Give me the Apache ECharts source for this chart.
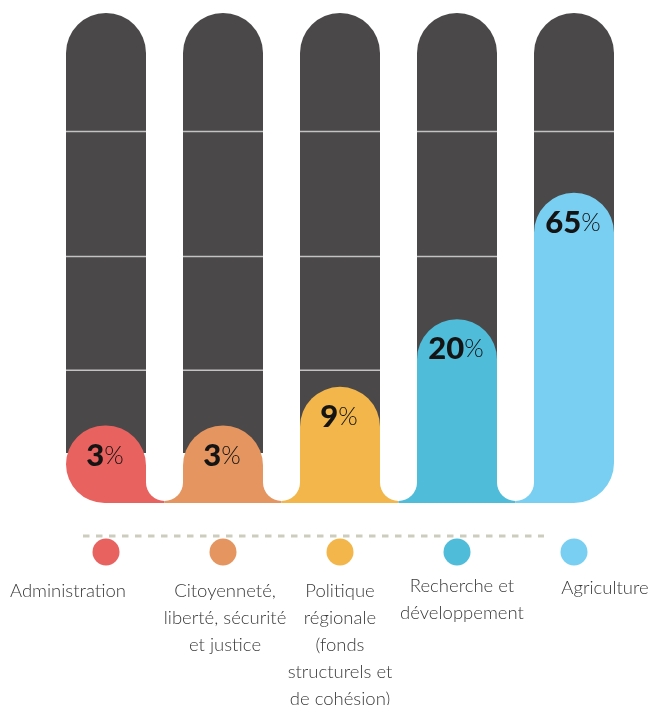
<!DOCTYPE html>
<html>
<head>
<meta charset="utf-8">
<script src="https://cdn.jsdelivr.net/npm/echarts@6/dist/echarts.min.js"></script>
<style>
html,body{margin:0;padding:0;background:#fff;}
#chart{width:653px;height:705px;}
</style>
</head>
<body>
<div id="chart"></div>
<script>
// ---- data ----
const categories = [
  'Administration',
  'Citoyenneté,\nliberté, sécurité\net justice',
  'Politique\nrégionale\n(fonds\nstructurels et\nde cohésion)',
  'Recherche et\ndéveloppement',
  'Agriculture'
];
const shares = [3, 3, 9, 20, 65];              // percentage labels
const barLevels = [15.8, 15.8, 23.7, 37.5, 63.3]; // visual bar heights (column = 100)
const gridLevels = [27.1, 50.3, 75.8];          // white guide lines inside the columns
const columnMax = 100;

// ---- style ----
const colors = ['#e8625f', '#e5955f', '#f2b64a', '#4fbcd9', '#78cff2'];
const darkCol = '#4a4848';
const colW = 80;
const labelShift = [-38, 2, 0, 5, 31];
const labelTop = [4.5, 4.5, 4.5, 0, 1.5];

const chart = echarts.init(document.getElementById('chart'), null, {renderer: 'canvas'});

const xData = categories.map((c, i) => {
  const s = labelShift[i];
  return {
    value: c,
    textStyle: {padding: [labelTop[i], s < 0 ? -2 * s : 0, 0, s > 0 ? 2 * s : 0]}
  };
});

const option = {
  animation: false,
  backgroundColor: '#fff',
  grid: {left: 47.5, right: 20.5, top: 13, bottom: 202, containLabel: false, outerBoundsMode: 'none'},
  xAxis: {
    type: 'category',
    data: xData,
    axisLine: {show: false},
    axisTick: {show: false},
    splitLine: {show: false},
    axisLabel: {
      interval: 0,
      margin: 70,
      fontFamily: 'Lato',
      fontWeight: 300,
      fontSize: 18.5,
      lineHeight: 27,
      color: '#3a3a3a',
      verticalAlign: 'top',
      hideOverlap: false
    }
  },
  yAxis: {
    type: 'value', min: 0, max: columnMax, show: false,
    splitLine: {show: false}
  },
  graphic: [{
    type: 'line',
    shape: {x1: 83, y1: 536, x2: 544, y2: 536},
    style: {stroke: '#cdcdbf', lineWidth: 3, lineDash: [6.5, 6.5]},
    z: 1
  }],
  series: [
    {
      // dark background columns with guide lines
      type: 'custom',
      z: 1,
      silent: true,
      data: categories.map((c, i) => [i, columnMax]),
      renderItem: function (params, api) {
        const i = api.value(0);
        const top = api.coord([i, api.value(1)]);
        const bot = api.coord([i, 0]);
        const x0 = top[0] - colW / 2;
        const children = [{
          type: 'rect',
          shape: {x: x0, y: top[1], width: colW, height: (bot[1] - 50) - top[1], r: [colW / 2, colW / 2, 0, 0]},
          style: {fill: darkCol}
        }];
        gridLevels.forEach(g => {
          const p = api.coord([i, g]);
          children.push({
            type: 'line',
            shape: {x1: x0, y1: p[1], x2: x0 + colW, y2: p[1]},
            style: {stroke: '#c4c2c2', lineWidth: 1.5}
          });
        });
        return {type: 'group', children: children};
      }
    },
    {
      // coloured bars, labels and legend dots
      type: 'custom',
      z: 2,
      data: barLevels.map((v, i) => [i, v, shares[i]]),
      renderItem: function (params, api) {
        const i = api.value(0);
        const n = categories.length;
        const top = api.coord([i, api.value(1)]);
        const bot = api.coord([i, 0]);
        const band = api.size([1, 0])[0];
        const half = (band - colW) / 2;
        const cx = top[0];
        const x0 = cx - colW / 2, x1 = cx + colW / 2;
        const col = colors[i];
        const r = colW / 2;
        const ext0 = i === 0 ? cx : x0 - half;
        const ext1 = i === n - 1 ? cx : x1 + half;
        return {
          type: 'group',
          children: [
            {
              type: 'rect',
              shape: {x: x0, y: top[1], width: colW, height: bot[1] - top[1],
                r: [r, r, i === n - 1 ? r : 0, i === 0 ? r : 0]},
              style: {fill: col}
            },
            {
              type: 'rect',
              shape: {x: ext0, y: bot[1] - 22, width: ext1 - ext0, height: 22},
              style: {fill: col}
            },
            {
              type: 'text',
              style: {
                text: '{n|' + api.value(2) + '}{p|%}',
                x: cx - 1, y: top[1] + 30,
                align: 'center', verticalAlign: 'middle',
                rich: {
                  n: {fontFamily: 'Lato', fontWeight: 900, fontSize: 31, fill: '#141414'},
                  p: {fontFamily: 'Lato', fontWeight: 300, fontSize: 25, fill: '#141414'}
                }
              }
            },
            {
              type: 'circle',
              shape: {cx: cx, cy: bot[1] + 49, r: 13.5},
              style: {fill: col}
            }
          ]
        };
      }
    },
    {
      // white gaps with rounded bottoms between the columns
      type: 'custom',
      z: 3,
      silent: true,
      data: categories.slice(0, -1).map((c, i) => [i, 0]),
      renderItem: function (params, api) {
        const i = api.value(0);
        const a = api.coord([i, 0]);
        const b = api.coord([i + 1, 0]);
        const gx0 = a[0] + colW / 2;
        const gx1 = b[0] - colW / 2;
        const gr = (gx1 - gx0) / 2;
        return {
          type: 'rect',
          shape: {x: gx0, y: 0, width: gx1 - gx0, height: a[1] - 2, r: [0, 0, gr, gr]},
          style: {fill: '#ffffff'}
        };
      }
    }
  ]
};
chart.setOption(option);
</script>
</body>
</html>
